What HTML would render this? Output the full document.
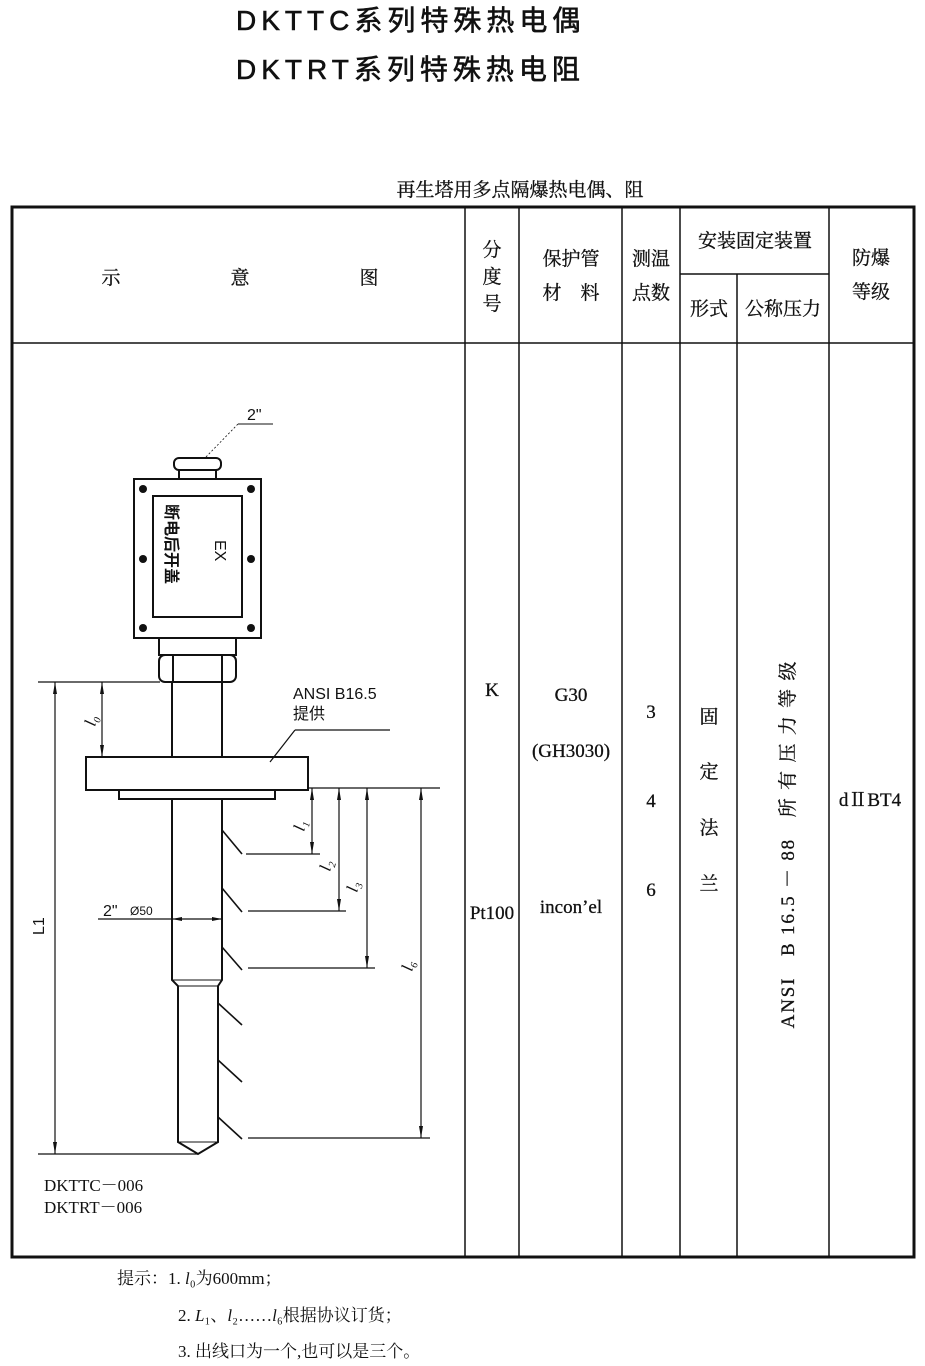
<!DOCTYPE html>
<html><head><meta charset="utf-8"><style>
html,body{margin:0;padding:0;background:#fff;}
svg{display:block;}
.s{font-family:"Liberation Serif","Noto Serif CJK SC",serif;}
.h{font-family:"Liberation Sans","Noto Sans CJK SC",sans-serif;}
</style></head><body>
<svg width="925" height="1366" viewBox="0 0 925 1366" xmlns="http://www.w3.org/2000/svg">
<g fill="#111" class="h" stroke="#111" stroke-width="0.6">
<text x="236" y="30" font-size="28" letter-spacing="5">DKTTC系列特殊热电偶</text>
<text x="236" y="79" font-size="28" letter-spacing="5">DKTRT系列特殊热电阻</text>
</g>
<text x="520" y="196" font-size="19" text-anchor="middle" class="s" fill="#111" stroke="#111" stroke-width="0.3">再生塔用多点隔爆热电偶、阻</text>
<!-- table -->
<g stroke="#111" fill="none">
<rect x="12" y="207" width="902" height="1050" stroke-width="3"/>
<line x1="12" y1="343" x2="914" y2="343" stroke-width="1.5"/>
<line x1="465" y1="207" x2="465" y2="1257" stroke-width="1.5"/>
<line x1="519" y1="207" x2="519" y2="1257" stroke-width="1.5"/>
<line x1="622" y1="207" x2="622" y2="1257" stroke-width="1.5"/>
<line x1="680" y1="207" x2="680" y2="1257" stroke-width="1.5"/>
<line x1="737" y1="274" x2="737" y2="1257" stroke-width="1.5"/>
<line x1="829" y1="207" x2="829" y2="1257" stroke-width="1.5"/>
<line x1="680" y1="274" x2="829" y2="274" stroke-width="1.5"/>
</g>
<g class="s" fill="#111" font-size="19" text-anchor="middle" stroke="#111" stroke-width="0.3">
<text x="111" y="284">示</text><text x="240" y="284">意</text><text x="369" y="284">图</text>
<text x="492" y="256">分</text><text x="492" y="283">度</text><text x="492" y="310">号</text>
<text x="571" y="265">保护管</text><text x="571" y="299">材　料</text>
<text x="651" y="265">测温</text><text x="651" y="299">点数</text>
<text x="755" y="247">安装固定装置</text>
<text x="709" y="315">形式</text><text x="783" y="315">公称压力</text>
<text x="871" y="264">防爆</text><text x="871" y="298">等级</text>
<text x="492" y="696">K</text><text x="492" y="919">Pt100</text>
<text x="571" y="701">G30</text><text x="571" y="757">(GH3030)</text><text x="571" y="913">incon’el</text>
<text x="651" y="718">3</text><text x="651" y="807">4</text><text x="651" y="896">6</text>
<text x="709" y="723">固</text><text x="709" y="778">定</text><text x="709" y="834">法</text><text x="709" y="890">兰</text>
<text x="870" y="806">dⅡBT4</text>
<text transform="translate(794,844) rotate(-90)" font-size="19" letter-spacing="1.8">ANSI　B 16.5 － 88　所 有 压 力 等 级</text>
</g>
<!-- drawing -->
<g stroke="#111" fill="none" stroke-width="2">
<line x1="238" y1="424" x2="273" y2="424" stroke-width="1"/>
<line x1="238" y1="424" x2="205" y2="458" stroke-width="0.8" stroke-dasharray="2,2"/>
<rect x="174" y="458" width="47" height="12" rx="5"/>
<rect x="179" y="470" width="37" height="9"/>
<rect x="134" y="479" width="127" height="159"/>
<rect x="153" y="496" width="89" height="121"/>
<rect x="159" y="638" width="77" height="17"/>
<rect x="159" y="655" width="77" height="27" rx="6"/>
<line x1="173" y1="655" x2="173" y2="682"/><line x1="222" y1="655" x2="222" y2="682"/>
<line x1="172" y1="682" x2="172" y2="757"/><line x1="222" y1="682" x2="222" y2="757"/>
<rect x="86" y="757" width="222" height="33"/>
<rect x="119" y="790" width="156" height="9"/>
<path d="M172 799 V980 L178 986 V1142 L198 1154 L218 1142 V986 L222 980 V799"/>
<line x1="172" y1="980" x2="222" y2="980" stroke-width="1"/>
<line x1="178" y1="986" x2="218" y2="986" stroke-width="1"/>
<line x1="178" y1="1142" x2="218" y2="1142" stroke-width="1"/>
</g>
<g fill="#111">
<circle cx="143" cy="489" r="4"/><circle cx="251" cy="489" r="4"/>
<circle cx="143" cy="559" r="4"/><circle cx="251" cy="559" r="4"/>
<circle cx="143" cy="628" r="4"/><circle cx="251" cy="628" r="4"/>
</g>
<g stroke="#111" fill="none" stroke-width="1.2">
<line x1="38" y1="682" x2="160" y2="682"/>
<line x1="38" y1="1154" x2="198" y2="1154"/>
<line x1="55" y1="682" x2="55" y2="1154"/>
<line x1="102" y1="682" x2="102" y2="757"/>
<line x1="308" y1="788" x2="440" y2="788"/>
<line x1="295" y1="730" x2="390" y2="730"/>
<line x1="295" y1="730" x2="270" y2="762"/>
<line x1="312" y1="788" x2="312" y2="854"/>
<line x1="339" y1="788" x2="339" y2="911"/>
<line x1="367" y1="788" x2="367" y2="968"/>
<line x1="421" y1="788" x2="421" y2="1138"/>
<line x1="246" y1="854" x2="320" y2="854"/>
<line x1="248" y1="911" x2="346" y2="911"/>
<line x1="248" y1="968" x2="375" y2="968"/>
<line x1="248" y1="1138" x2="430" y2="1138"/>
<line x1="98" y1="919" x2="222" y2="919"/>
<g stroke-width="1.6">
<line x1="222" y1="830" x2="242" y2="854"/><line x1="222" y1="888" x2="242" y2="912"/>
<line x1="222" y1="947" x2="242" y2="970"/><line x1="218" y1="1003" x2="242" y2="1025"/>
<line x1="218" y1="1060" x2="242" y2="1082"/><line x1="218" y1="1117" x2="242" y2="1139"/>
</g>
</g>
<g fill="#111">
<path d="M55 682 l-2 12 h4z M55 1154 l-2 -12 h4z M102 682 l-2 12 h4z M102 757 l-2 -12 h4z"/>
<path d="M312 788 l-2 12 h4z M312 854 l-2 -12 h4z M339 788 l-2 12 h4z M339 911 l-2 -12 h4z"/>
<path d="M367 788 l-2 12 h4z M367 968 l-2 -12 h4z M421 788 l-2 12 h4z M421 1138 l-2 -12 h4z"/>
<path d="M172 919 l10 -2 v4z M222 919 l-10 -2 v4z"/>
</g>
<g class="h" fill="#111">
<text x="247" y="420" font-size="16">2"</text>
<text transform="translate(215,540) rotate(90)" font-size="16">EX</text>
<text transform="translate(166,504) rotate(90)" font-size="16" font-weight="bold">断电后开盖</text>
<text x="293" y="699" font-size="16">ANSI B16.5</text>
<text x="293" y="719" font-size="16">提供</text>
<text x="103" y="916" font-size="16">2"</text>
<text x="130" y="915" font-size="12">Ø50</text>
<text transform="translate(44,935) rotate(-90)" font-size="16">L1</text>
</g>
<g class="s" fill="#111" font-style="italic" font-size="17">
<text transform="translate(95,727) rotate(-75)">l₀</text>
<text transform="translate(304,832) rotate(-75)">l₁</text>
<text transform="translate(330,872) rotate(-75)">l₂</text>
<text transform="translate(357,893) rotate(-75)">l₃</text>
<text transform="translate(412,972) rotate(-75)">l₆</text>
</g>
<g class="s" fill="#111" font-size="17">
<text x="44" y="1191">DKTTC－006</text>
<text x="44" y="1213">DKTRT－006</text>
</g>
<g class="s" fill="#111" font-size="17">
<text x="117" y="1284">提示：1. <tspan font-style="italic">l</tspan>₀为600mm；</text>
<text x="178" y="1321">2. <tspan font-style="italic">L</tspan>₁、<tspan font-style="italic">l</tspan>₂……<tspan font-style="italic">l</tspan>₆根据协议订货；</text>
<text x="178" y="1357">3. 出线口为一个,也可以是三个。</text>
</g>
</svg>
</body></html>
